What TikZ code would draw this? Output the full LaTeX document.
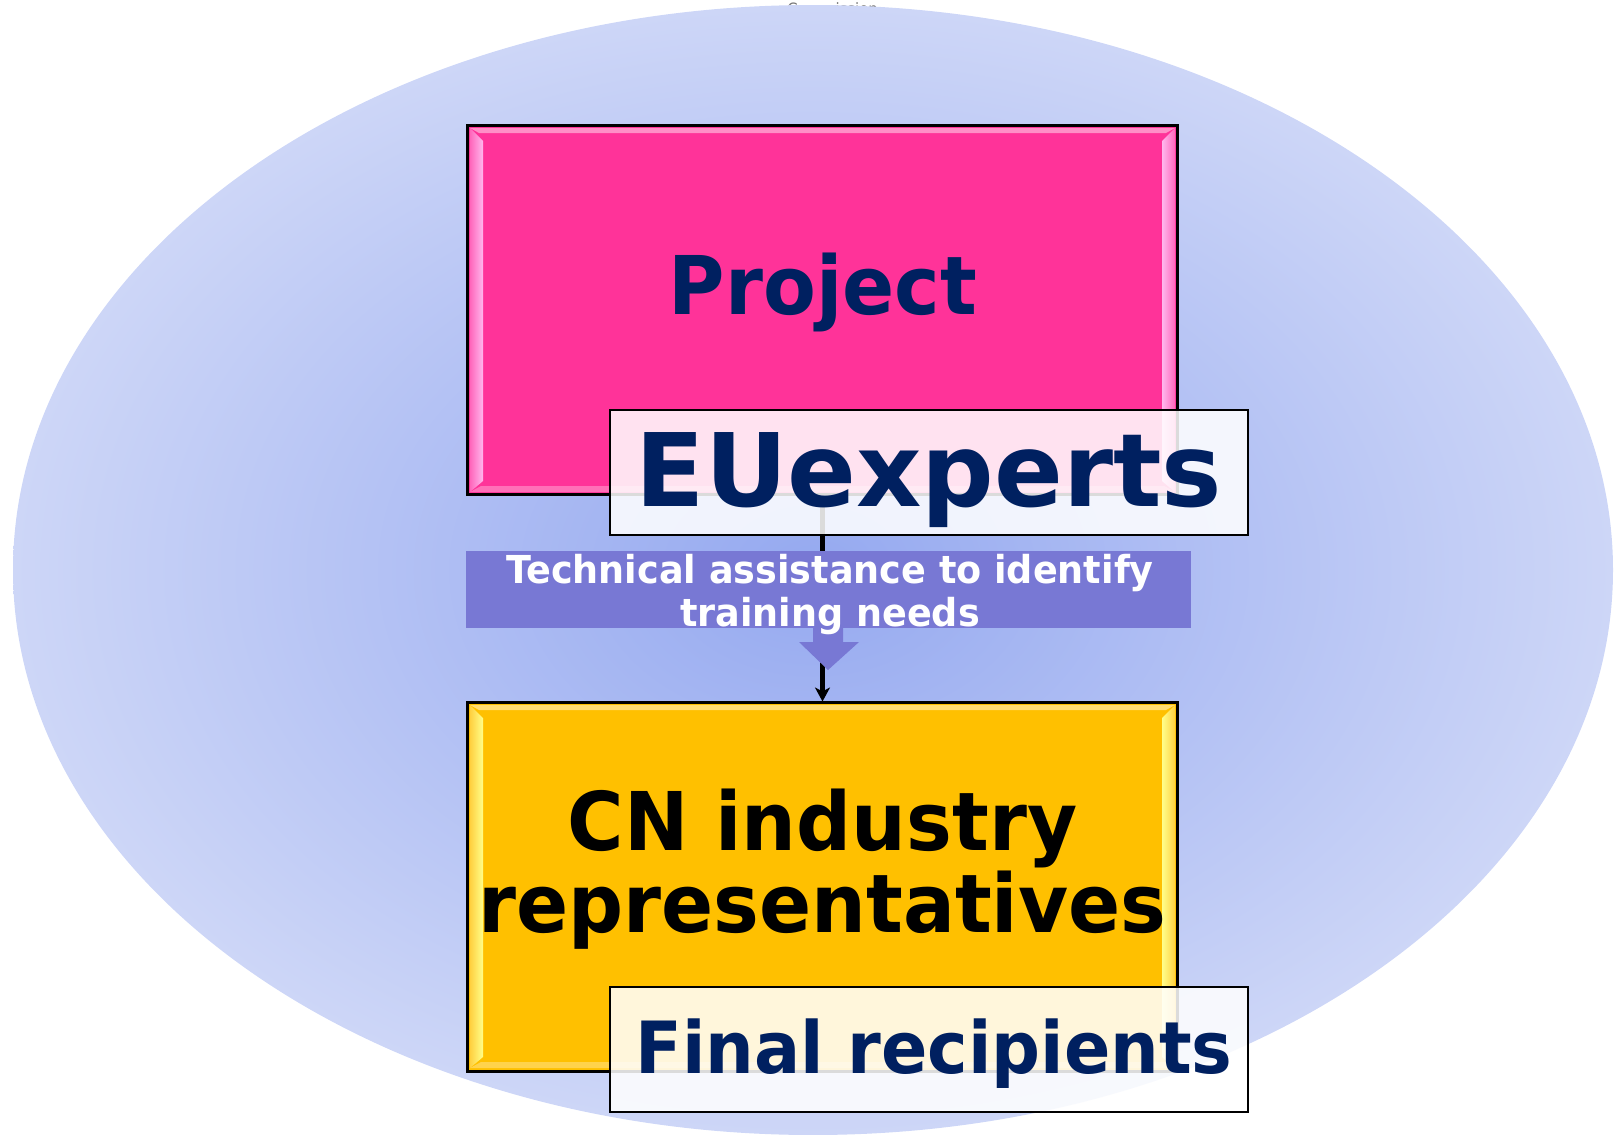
\documentclass[tikz,border=0pt]{standalone}
\usepackage{fontspec}
\setmainfont{DejaVu Sans}[FakeStretch=0.95]
\newfontfamily\widefont{DejaVu Sans}
\usetikzlibrary{arrows.meta}
\definecolor{bgin}{HTML}{95A9F0}
\definecolor{bgout}{HTML}{CDD6F7}
\definecolor{pinkbox}{HTML}{FF3399}
\definecolor{pinkhi}{HTML}{FFB8EE}
\definecolor{pinkmid}{HTML}{FF66BB}
\definecolor{yellowbox}{HTML}{FFC000}
\definecolor{yellowhi}{HTML}{FFFF8A}
\definecolor{yellowmid}{HTML}{FFD040}
\definecolor{navy}{HTML}{002060}
\definecolor{bandcol}{HTML}{7878D4}
\definecolor{commgray}{HTML}{777777}
\tikzset{
  bigbox/.style={draw=black, line width=1pt, minimum width=354.5pt, minimum height=184pt, inner sep=0pt},
  labelbox/.style={draw=black, line width=1pt, fill=white, fill opacity=0.86, minimum width=319pt, minimum height=62.5pt, inner sep=0pt},
  txt/.style={inner sep=0pt, font=\bfseries},
  conn/.style={line width=2.5pt, black, -{Stealth[length=7pt,width=7.5pt,inset=2pt]}},
}
\begin{document}
\begin{tikzpicture}[x=0.5pt,y=-0.5pt]
\useasboundingbox (0,0) rectangle (1614,1135);
% faint title partly hidden by the ellipse
\node[inner sep=0pt, text=commgray, font=\fontsize{7.8}{9}\selectfont, anchor=base] (comm) at (832.5,14.5) {Commission};
% background ellipse
\shade[inner color=bgin, outer color=bgout] (813,570) ellipse [x radius=800, y radius=565];

% Project box
\node[bigbox, fill=pinkbox] (proj) at (822.5,310) {};
\shade[left color=pinkmid, right color=pinkhi] (470,128) -- (483,141) -- (483,481) -- (470,492) -- cycle;
\shade[left color=pinkhi, right color=pinkmid] (1162,141) -- (1175,128) -- (1175,492) -- (1162,481) -- cycle;
\fill[pinkbox!55!white] (470,128) -- (1175,128) -- (1166,133) -- (479,133) -- cycle;
\fill[pinkbox!70!white] (470,492) -- (1175,492) -- (1164,486) -- (481,486) -- cycle;
\draw[line width=1pt] (proj.south west) rectangle (proj.north east);

% CN industry box
\node[bigbox, fill=yellowbox] (cn) at (822.5,886.5) {};
\shade[left color=yellowmid, right color=yellowhi] (470,705) -- (483,718) -- (483,1057) -- (470,1068) -- cycle;
\shade[left color=yellowhi, right color=yellowmid] (1162,718) -- (1175,705) -- (1175,1068) -- (1162,1057) -- cycle;
\fill[yellowbox!55!white] (470,705) -- (1175,705) -- (1166,710) -- (479,710) -- cycle;
\fill[yellowbox!70!white] (470,1068) -- (1175,1068) -- (1164,1062) -- (481,1062) -- cycle;
\draw[line width=1pt] (cn.south west) rectangle (cn.north east);

% connector
\draw[conn] (proj.south) -- (cn.north);

% label boxes
\node[labelbox] (eu) at (929,472.5) {};
\node[labelbox] (fr) at (929,1049.5) {};

% band and block arrow
\node[fill=bandcol, minimum width=362.5pt, minimum height=38.5pt, inner sep=0pt] (band) at (828.5,589.5) {};
\fill[bandcol] (813,627) -- (843,627) -- (843,642) -- (859,642) -- (828,670) -- (799,642) -- (813,642) -- cycle;

% texts
\node[txt, text=navy, font=\bfseries\fontsize{40.5}{48}\selectfont, anchor=base] (projtxt) at (823,314) {Project};
\node[txt, text=navy, font=\widefont\bfseries\fontsize{50.75}{60}\selectfont, anchor=base] (eutxt) at (929,506) {EUexperts};
\node[txt, text=white, align=center, font=\bfseries\fontsize{19.25}{21.25}\selectfont] (tatxt) at (830,594.7) {Technical assistance to identify\\training needs};
\node[txt, text=black, align=center, font=\bfseries\fontsize{40.5}{41.25}\selectfont] (cntxt) at (822.5,869) {CN industry\\representatives};
\node[txt, text=navy, font=\bfseries\fontsize{36}{42}\selectfont, anchor=base] (frtxt) at (934,1073.5) {Final recipients};
\end{tikzpicture}
\end{document}
